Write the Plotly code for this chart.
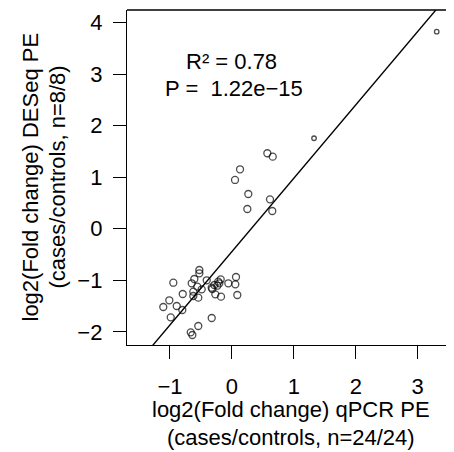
import plotly.graph_objects as go

# qPCR log2 fold change (x) vs DESeq log2 fold change (y)
qpcr_fc = [-0.526, -0.526, -0.946, -0.607, -0.649, -0.559, -0.488, -0.623, -0.407, -0.794,
           -0.623, -0.543, -0.326, -0.284, -0.220, -0.181, -0.203, -0.268, -0.176, -0.058,
           0.055, 0.066, 0.087, -1.011, -1.108, -0.891, -0.801, -0.988, -0.326, -0.543,
           -0.665, -0.639, -0.316, -0.236,
           0.572, 0.659, 0.131, 0.050, 0.265, 0.249, 0.615, 0.652,
           1.326, 3.307]
deseq_fc = [-0.801, -0.865, -1.048, -0.976, -1.059, -1.125, -1.176, -1.222, -1.001, -1.267,
            -1.306, -1.338, -1.145, -1.092, -1.028, -0.982, -1.059, -1.273, -1.319, -1.059,
            -1.079, -0.937, -1.286, -1.389, -1.519, -1.500, -1.577, -1.719, -1.732, -1.887,
            -2.010, -2.062, -1.170, -1.106,
            1.463, 1.397, 1.152, 0.945, 0.673, 0.382, 0.570, 0.343,
            1.754, 3.822]
point_sizes = [7] * 42 + [4.5, 4.5]

fit_slope = 1.423
fit_intercept = -0.444
x_ticks = [-1, 0, 1, 2, 3]
y_ticks = [-2, -1, 0, 1, 2, 3, 4]
x_range = [-1.694, 3.586]
y_range = [-2.256, 4.242]

FONT = "Liberation Sans, Arial, Helvetica, sans-serif"
FS = 22

# page body has an 8px margin; compensate so the figure lands where the reference is
OFF = 8
W, H = 454 - OFF, 452 - OFF
L, T = 127 - OFF, 10 - OFF
B = H - (345 - OFF)

fig = go.Figure()
line_x = [x_range[0], x_range[1]]
line_y = [fit_intercept + fit_slope * v for v in line_x]
fig.add_trace(go.Scatter(x=line_x, y=line_y, mode="lines",
                         line=dict(color="black", width=1.4), hoverinfo="skip"))
fig.add_trace(go.Scatter(x=qpcr_fc, y=deseq_fc, mode="markers",
                         marker=dict(symbol="circle-open", size=point_sizes, color="black",
                                     line=dict(width=1.3, color="black"))))

fig.update_layout(
    width=W, height=H,
    margin=dict(l=L, r=0, t=T, b=B, autoexpand=False),
    plot_bgcolor="white", paper_bgcolor="white",
    showlegend=False,
    font=dict(family=FONT, size=FS, color="black"),
)
fig.update_xaxes(range=x_range, tickvals=x_ticks, ticks="outside", ticklen=13, tickwidth=1.3,
                 tickcolor="black", showline=True, linecolor="black", linewidth=1.4,
                 showgrid=False, zeroline=False, ticklabelstandoff=8,
                 tickfont=dict(family=FONT, size=FS))
fig.update_yaxes(range=y_range, tickvals=y_ticks, ticks="outside", ticklen=13, tickwidth=1.3,
                 tickcolor="black", showline=True, linecolor="black", linewidth=1.4,
                 showgrid=False, zeroline=False, ticklabelstandoff=6,
                 tickfont=dict(family=FONT, size=FS))

# top border of the box (right edge falls outside the picture)
fig.add_shape(type="line", xref="paper", yref="paper", x0=0, x1=1, y0=1, y1=1,
              line=dict(color="black", width=1.4))

fig.add_annotation(x=0.0, y=3.24, xref="x", yref="y", text="R² = 0.78", showarrow=False,
                   xanchor="center", yanchor="middle", font=dict(family=FONT, size=FS))
fig.add_annotation(x=0.03, y=2.72, xref="x", yref="y", text="P =\u00a0 1.22e−15", showarrow=False,
                   xanchor="center", yanchor="middle", font=dict(family=FONT, size=FS))

plot_w = W - L
plot_h = H - T - B


def px_to_paper_x(px):
    return (px - OFF - L) / plot_w


def px_to_paper_y(py):
    return (H - B - (py - OFF)) / plot_h


cx = px_to_paper_x((127 + 454) / 2)
cy = px_to_paper_y((10 + 345) / 2)
fig.add_annotation(x=cx, y=px_to_paper_y(410), xref="paper", yref="paper",
                   text="log2(Fold change) qPCR PE", showarrow=False,
                   xanchor="center", yanchor="middle", font=dict(family=FONT, size=FS))
fig.add_annotation(x=cx, y=px_to_paper_y(437), xref="paper", yref="paper",
                   text="(cases/controls, n=24/24)", showarrow=False,
                   xanchor="center", yanchor="middle", font=dict(family=FONT, size=FS))
fig.add_annotation(x=px_to_paper_x(30), y=cy, xref="paper", yref="paper",
                   text="log2(Fold change) DESeq PE", textangle=-90, showarrow=False,
                   xanchor="center", yanchor="middle", font=dict(family=FONT, size=FS))
fig.add_annotation(x=px_to_paper_x(57), y=cy, xref="paper", yref="paper",
                   text="(cases/controls, n=8/8)", textangle=-90, showarrow=False,
                   xanchor="center", yanchor="middle", font=dict(family=FONT, size=FS))

fig.write_html("out.html")
